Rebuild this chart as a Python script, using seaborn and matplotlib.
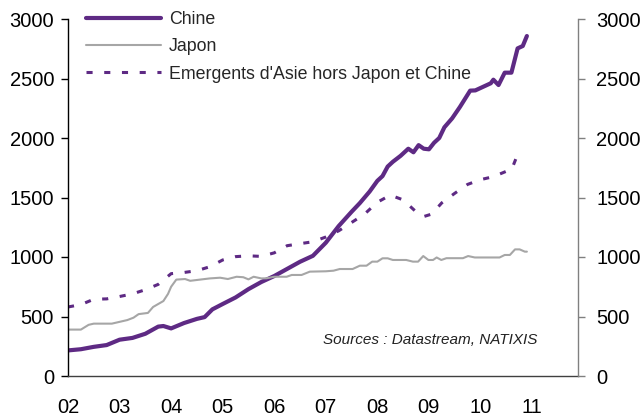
import matplotlib
matplotlib.use("Agg")
import matplotlib.pyplot as plt
import seaborn as sns
import pandas as pd

# ---- data (decimal years, values) ----
chine_t = [2002.0, 2002.25, 2002.5, 2002.75, 2003.0, 2003.25, 2003.5, 2003.75, 2003.85, 2004.0,
           2004.25, 2004.5, 2004.65, 2004.8, 2005.0, 2005.25, 2005.5, 2005.75, 2006.0, 2006.25,
           2006.5, 2006.75, 2007.0, 2007.25, 2007.5, 2007.66, 2007.85, 2008.0, 2008.1, 2008.2,
           2008.3, 2008.45, 2008.6, 2008.7, 2008.8, 2008.9, 2009.0, 2009.1, 2009.2, 2009.3,
           2009.45, 2009.6, 2009.8, 2009.9, 2010.1, 2010.2, 2010.25, 2010.35, 2010.47, 2010.6,
           2010.72, 2010.82, 2010.9]
chine_v = [215, 225, 245, 260, 305, 320, 355, 415, 420, 400,
           445, 480, 495, 560, 605, 660, 730, 790, 840, 900,
           960, 1010, 1120, 1260, 1380, 1453, 1550, 1640, 1680, 1760,
           1800, 1850, 1910, 1880, 1940, 1910, 1905, 1960, 2000, 2090,
           2165, 2260, 2398, 2400, 2440, 2460, 2490, 2445, 2549, 2549,
           2753, 2773, 2857]

japon_t = [2002.0, 2002.25, 2002.4, 2002.5, 2002.85, 2003.0, 2003.15, 2003.27, 2003.37, 2003.55,
           2003.65, 2003.85, 2003.94, 2004.0, 2004.1, 2004.27, 2004.37, 2004.56, 2004.75, 2004.95,
           2005.1, 2005.27, 2005.4, 2005.5, 2005.6, 2005.75, 2005.85, 2006.0, 2006.24, 2006.34,
           2006.53, 2006.69, 2007.0, 2007.15, 2007.27, 2007.52, 2007.66, 2007.79, 2007.9, 2008.0,
           2008.1, 2008.2, 2008.3, 2008.56, 2008.69, 2008.79, 2008.89, 2008.99, 2009.08, 2009.15,
           2009.24, 2009.34, 2009.66, 2009.76, 2009.89, 2010.37, 2010.47, 2010.57, 2010.67, 2010.76,
           2010.86, 2010.9]
japon_v = [390, 390, 430, 440, 440, 455, 470, 490, 520, 530,
           580, 630, 690, 750, 810, 815, 800, 810, 820, 826,
           815, 834, 830, 812, 834, 820, 821, 834, 834, 849,
           849, 877, 880, 885, 899, 899, 927, 927, 961, 961,
           989, 989, 975, 975, 961, 961, 1008, 975, 975, 996,
           975, 990, 990, 1008, 996, 996, 1017, 1017, 1064, 1064,
           1045, 1045]

emerg_t = [2002.0, 2002.25, 2002.5, 2002.75, 2003.0, 2003.25, 2003.5, 2003.75, 2004.0, 2004.25,
           2004.5, 2004.75, 2005.0, 2005.25, 2005.5, 2005.75, 2006.0, 2006.25, 2006.5, 2006.75,
           2007.0, 2007.25, 2007.5, 2007.75, 2008.0, 2008.25, 2008.5, 2008.75, 2008.9, 2009.05,
           2009.25, 2009.5, 2009.75, 2010.0, 2010.25, 2010.5, 2010.6, 2010.7]
emerg_v = [580, 600, 645, 648, 668, 690, 725, 770, 860, 870,
           885, 918, 975, 1003, 1010, 1005, 1035, 1095, 1112, 1128,
           1168, 1220, 1290, 1360, 1460, 1520, 1480, 1380, 1340, 1360,
           1455, 1535, 1610, 1650, 1675, 1720, 1730, 1840]

labels = ["Chine", "Japon", "Emergents d'Asie hors Japon et Chine"]
year_ticks = [2002, 2003, 2004, 2005, 2006, 2007, 2008, 2009, 2010, 2011]
year_labels = ["02", "03", "04", "05", "06", "07", "08", "09", "10", "11"]
y_ticks = [0, 500, 1000, 1500, 2000, 2500, 3000]
source_text = "Sources : Datastream, NATIXIS"

purple = "#5E2A84"
grey = "#A6A6A6"

sns.set_style("white")
plt.rcParams["font.family"] = ["Liberation Sans", "DejaVu Sans"]

fig = plt.figure(figsize=(6.42, 4.19), dpi=100)
ax = fig.add_axes([68 / 642, 1 - 376 / 419, (578 - 68) / 642, (376 - 19) / 419])

df_c = pd.DataFrame({"t": chine_t, "v": chine_v})
df_j = pd.DataFrame({"t": japon_t, "v": japon_v})
df_e = pd.DataFrame({"t": emerg_t, "v": emerg_v})

sns.lineplot(data=df_c, x="t", y="v", ax=ax, color=purple, linewidth=3.0, label=labels[0])
sns.lineplot(data=df_j, x="t", y="v", ax=ax, color=grey, linewidth=1.5, label=labels[1])
sns.lineplot(data=df_e, x="t", y="v", ax=ax, color=purple, linewidth=2.2, label=labels[2],
             linestyle=(0, (2.0, 3.8)))

ax.set_xlim(2002.0, 2002.0 + (578 - 68) / 51.56)
ax.set_ylim(0, 3000)
ax.set_xlabel("")
ax.set_ylabel("")
ax.set_xticks(year_ticks)
ax.set_xticklabels(year_labels)
ax.set_yticks(y_ticks)
ax.set_yticklabels([str(v) for v in y_ticks])

for s in ["top", "right"]:
    ax.spines[s].set_visible(False)
ax.spines["left"].set_color("black")
ax.spines["left"].set_linewidth(1.0)
ax.spines["bottom"].set_color("#404040")
ax.spines["bottom"].set_linewidth(1.0)
ax.tick_params(axis="y", direction="out", length=5, width=1, color="black",
               labelsize=14.5, pad=5, labelcolor="black")
ax.tick_params(axis="x", direction="out", length=5, width=1, color="#404040",
               labelsize=14.5, pad=11, labelcolor="black")

ax2 = ax.twinx()
ax2.set_ylim(0, 3000)
ax2.set_yticks(y_ticks)
ax2.set_yticklabels([str(v) for v in y_ticks])
for s in ["top", "left", "bottom"]:
    ax2.spines[s].set_visible(False)
ax2.spines["right"].set_color("#808080")
ax2.spines["right"].set_linewidth(1.0)
ax2.tick_params(axis="y", direction="out", length=5, width=1, color="#808080",
                labelsize=14.5, pad=8, labelcolor="black")
ax2.grid(False)

leg = ax.legend(loc="upper left", bbox_to_anchor=(86 / 642, 1 - 11 / 419),
                bbox_transform=fig.transFigure, frameon=False, fontsize=12.8,
                handlelength=4.2, handletextpad=0.45, labelspacing=0.58,
                borderpad=0, borderaxespad=0)

ax.text(537 / 642, 1 - 340 / 419, source_text, transform=fig.transFigure,
        ha="right", va="center", fontsize=11, style="italic", color="#222222")

fig.savefig("out.png", dpi=100)
